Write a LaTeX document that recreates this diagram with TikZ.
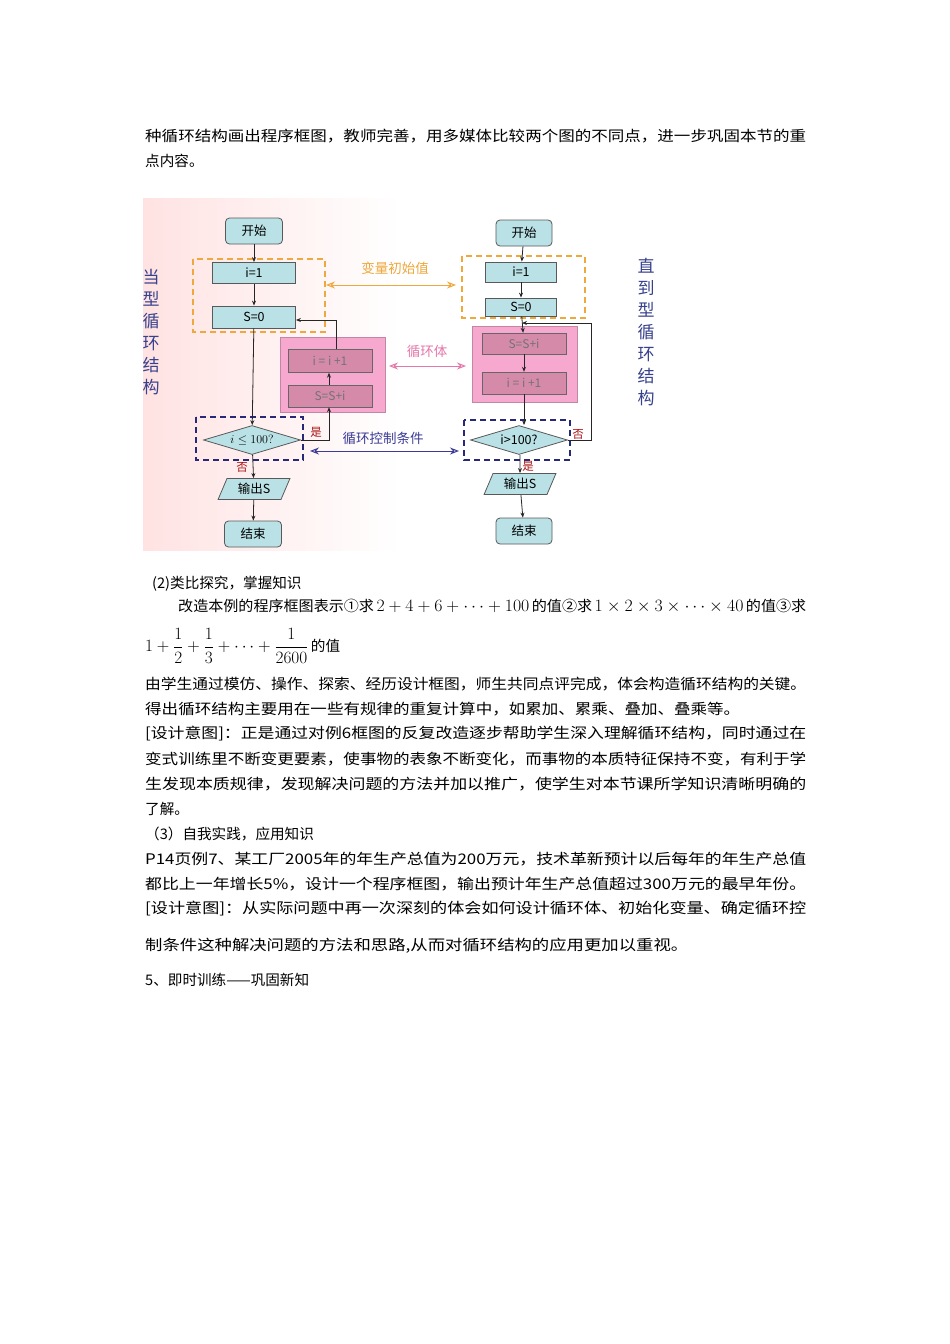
\documentclass[tikz,border=0pt]{standalone}
\usepackage{fontspec}
\usepackage{graphicx}
\setmainfont{Noto Sans CJK SC}
\usetikzlibrary{shapes.geometric,arrows.meta}
\definecolor{cyf}{RGB}{186,226,230}
\definecolor{pkout}{RGB}{246,168,206}
\definecolor{pkin}{RGB}{214,138,170}
\definecolor{org}{RGB}{238,168,60}
\definecolor{nvy}{RGB}{40,40,120}
\definecolor{lblb}{RGB}{60,60,150}
\definecolor{lblp}{RGB}{228,120,170}
\definecolor{vt}{RGB}{55,65,140}
\definecolor{redl}{RGB}{170,20,20}
\tikzset{
 pbox/.style={draw=black!65,fill=cyf,line width=0.8pt,inner sep=0pt,font=\fontsize{12.5}{13}\selectfont},
 rbox/.style={pbox,rounded corners=4pt},
 ibox/.style={draw=black!60,fill=pkin,inner sep=0pt,text=black!55,font=\fontsize{12}{13}\selectfont},
 dia/.style={pbox,diamond,aspect=3.4,minimum width=97pt,minimum height=29pt},
 para/.style={pbox,trapezium,trapezium left angle=65,trapezium right angle=115,trapezium stretches=true,minimum height=21pt,minimum width=72pt},
 ar/.style={-{Stealth[length=5pt,width=4pt]},line width=0.8pt,black!85},
 dbl/.style={{Stealth[open,length=9pt,width=7pt]}-{Stealth[open,length=9pt,width=7pt]},line width=1pt},
 txt/.style={anchor=west,inner sep=0pt,font=\fontsize{14.6}{18}\selectfont},
 lab/.style={font=\fontsize{13.5}{14}\selectfont,inner sep=0pt},
 vlab/.style={font=\fontsize{17}{22}\selectfont,align=center,text=vt,inner sep=0pt},
 yn/.style={font=\fontsize{11.5}{12}\selectfont,text=redl,inner sep=0pt}
}
\newcommand{\jl}[3]{\node[txt] (#1) at (145,#2) {\resizebox{661pt}{\height}{#3}};}
\begin{document}
\begin{tikzpicture}[x=1pt,y=-1pt]
\useasboundingbox (0,0) rectangle (950,1344);
\fill[white] (0,0) rectangle (950,1344);
\shade[left color=pink!45,right color=white] (143,198) rectangle (400,550);
\jl{l1}{136}{种循环结构画出程序框图，教师完善，用多媒体比较两个图的不同点，进一步巩固本节的重}
\node[txt] (l2) at (145,161) {点内容。};
% left chart
\node[rbox,minimum width=57pt,minimum height=26pt] (s1) at (254,231) {开始};
\node[pbox,minimum width=83pt,minimum height=21pt] (a1) at (254,273) {i=1};
\node[pbox,minimum width=83pt,minimum height=22pt] (b1) at (254,317) {S=0};
\draw[org,dashed,line width=1.2pt,dash pattern=on 6pt off 4pt] (193,259) rectangle (325,332);
\node[fill=pkout,draw=pkout!80!black,minimum width=105pt,minimum height=75pt,inner sep=0] (pk1) at (333,374.5) {};
\node[ibox,minimum width=84pt,minimum height=23pt] (c1) at (330,361) {i = i +1};
\node[ibox,minimum width=84pt,minimum height=22pt] (d1) at (330,396) {S=S+i};
\draw[nvy,dashed,line width=1.2pt,dash pattern=on 6pt off 4pt] (196,417) rectangle (303,460);
\node[dia] (q1) at (252,440) {$i\le100?$};
\node[para] (o1) at (254,489) {输出S};
\node[rbox,minimum width=57pt,minimum height=26pt] (e1) at (253,534) {结束};
\draw[ar] (s1) -- (a1);
\draw[ar] (a1) -- (b1);
\draw[ar] (b1) -- (q1);
\draw[ar] (q1) -- (o1);
\draw[ar] (o1) -- (e1);
\coordinate (r1) at (329,440);
\draw[ar] (q1.east) -- (r1) -- (d1.south -| r1);
\draw[ar] (d1.north -| r1) -- (c1.south -| r1);
\draw[ar] (c1.north -| 336,0) -- (336,320) -- (b1.east |- 0,320);
\node[yn] (y1) at (316,432) {是};
\node[yn] (n1) at (242,467) {否};
% right chart
\node[rbox,minimum width=56pt,minimum height=26pt] (s2) at (524,233) {开始};
\draw[org,dashed,line width=1.2pt,dash pattern=on 6pt off 4pt] (462,256) rectangle (585,318);
\node[pbox,minimum width=71pt,minimum height=20pt] (a2) at (521,272) {i=1};
\node[pbox,minimum width=71pt,minimum height=18pt] (b2) at (521,307) {S=0};
\node[fill=pkout,draw=pkout!80!black,minimum width=105pt,minimum height=76pt,inner sep=0] (pk2) at (524.5,364) {};
\node[ibox,minimum width=84pt,minimum height=21pt] (c2) at (524,343.5) {S=S+i};
\node[ibox,minimum width=84pt,minimum height=22pt] (d2) at (524,383) {i = i +1};
\draw[nvy,dashed,line width=1.2pt,dash pattern=on 6pt off 4pt] (464,420) rectangle (570,460);
\node[dia] (q2) at (519,440) {i>100?};
\node[para] (o2) at (520,484) {输出S};
\node[rbox,minimum width=56pt,minimum height=26pt] (e2) at (524,531) {结束};
\draw[ar] (s2) -- (a2);
\draw[ar] (a2) -- (b2);
\draw[ar] (b2) -- (c2);
\draw[ar] (c2) -- (d2);
\draw[ar] (d2) -- (q2.north -| d2);
\draw[ar] (q2.south -| o2) -- (o2);
\draw[ar] (o2) -- (e2);
\coordinate (r2) at (591,440);
\draw[ar] (q2.east) -- (r2) -- (591,323) -- (522,323);
\node[yn] (n2) at (578,434) {否};
\node[yn] (y2) at (528,466) {是};
% middle labels
\node[lab,text=org] (t1) at (395,268) {变量初始值};
\coordinate (h1a) at (326,285); \coordinate (h1b) at (456,285);
\draw[dbl,org] (h1a) -- (h1b);
\node[lab,text=lblp] (t2) at (427,351) {循环体};
\coordinate (h2a) at (389,366); \coordinate (h2b) at (466,366);
\draw[dbl,lblp] (h2a) -- (h2b);
\node[lab,text=lblb] (t3) at (383,438) {循环控制条件};
\coordinate (h3a) at (310,451); \coordinate (h3b) at (459,451);
\draw[dbl,lblb] (h3a) -- (h3b);
\node[vlab] (v1) at (151,332) {当\\型\\循\\环\\结\\构};
\node[vlab] (v2) at (646,332) {直\\到\\型\\循\\环\\结\\构};
% text below
\node[txt] (p1) at (152,584) {(2)类比探究，掌握知识};
\node[txt] (p2) at (178,606) {\resizebox{628pt}{\height}{改造本例的程序框图表示①求\,{\fontsize{16.5}{18}\selectfont$2+4+6+\cdots+100$}\,的值②求\,{\fontsize{16.5}{18}\selectfont$1\times2\times3\times\cdots\times40$}\,的值③求}};
\node[txt] (p3) at (145,646) {{\fontsize{17}{20}\selectfont$\displaystyle 1+\frac{1}{2}+\frac{1}{3}+\cdots+\frac{1}{2600}$}\,的值};
\jl{p4}{684}{由学生通过模仿、操作、探索、经历设计框图，师生共同点评完成，体会构造循环结构的关键。}
\node[txt] (p5) at (145,709) {\resizebox{595pt}{\height}{得出循环结构主要用在一些有规律的重复计算中，如累加、累乘、叠加、叠乘等。}};
\jl{p6}{734}{[设计意图]：正是通过对例6框图的反复改造逐步帮助学生深入理解循环结构，同时通过在}
\jl{p7}{759}{变式训练里不断变更要素，使事物的表象不断变化，而事物的本质特征保持不变，有利于学}
\jl{p8}{784}{生发现本质规律，发现解决问题的方法并加以推广，使学生对本节课所学知识清晰明确的}
\node[txt] (p9) at (145,809) {了解。};
\node[txt] (p10) at (145,834) {（3）自我实践，应用知识};
\jl{p11}{859}{P14页例7、某工厂2005年的年生产总值为200万元，技术革新预计以后每年的年生产总值}
\jl{p12}{884}{都比上一年增长5\%，设计一个程序框图，输出预计年生产总值超过300万元的最早年份。}
\jl{p13}{909}{[设计意图]：从实际问题中再一次深刻的体会如何设计循环体、初始化变量、确定循环控}
\node[txt] (p14) at (145,946) {\resizebox{543pt}{\height}{制条件这种解决问题的方法和思路,从而对循环结构的应用更加以重视。}};
\node[txt] (p15) at (145,980) {5、即时训练——巩固新知};
\end{tikzpicture}
\end{document}
